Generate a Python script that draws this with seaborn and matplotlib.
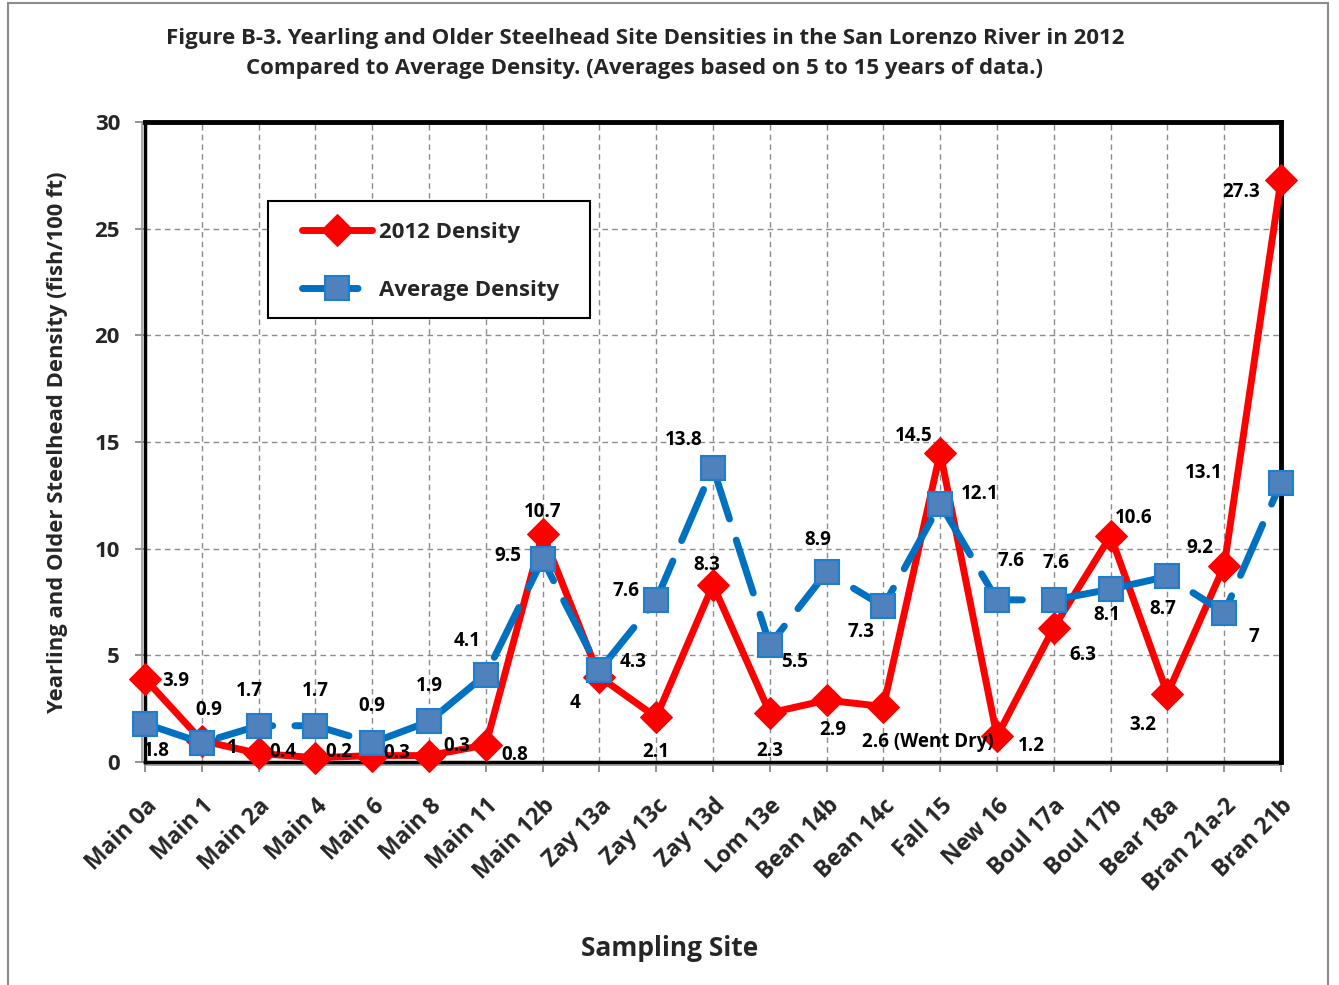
import matplotlib
matplotlib.use("Agg")
import matplotlib.pyplot as plt
from matplotlib.patches import Rectangle
from matplotlib.lines import Line2D
from matplotlib.transforms import offset_copy
import seaborn as sns
import pandas as pd

# Sampling sites and densities (fish/100 ft)
sites = ["Main 0a", "Main 1", "Main 2a", "Main 4", "Main 6", "Main 8", "Main 11",
         "Main 12b", "Zay 13a", "Zay 13c", "Zay 13d", "Lom 13e", "Bean 14b",
         "Bean 14c", "Fall 15", "New 16", "Boul 17a", "Boul 17b", "Bear 18a",
         "Bran 21a-2", "Bran 21b"]
density_2012 = [3.9, 1, 0.4, 0.2, 0.3, 0.3, 0.8, 10.7, 4, 2.1, 8.3, 2.3, 2.9,
                2.6, 14.5, 1.2, 6.3, 10.6, 3.2, 9.2, 27.3]
density_avg = [1.8, 0.9, 1.7, 1.7, 0.9, 1.9, 4.1, 9.5, 4.3, 7.6, 13.8, 5.5, 8.9,
               7.3, 12.1, 7.6, 7.6, 8.1, 8.7, 7, 13.1]
labels_2012 = ["3.9", "1", "0.4", "0.2", "0.3", "0.3", "0.8", "10.7", "4", "2.1",
               "8.3", "2.3", "2.9", "2.6 (Went Dry)", "14.5", "1.2", "6.3", "10.6",
               "3.2", "9.2", "27.3"]
labels_avg = [str(v) for v in density_avg]

# Label offsets in pixels (dx, dy) relative to each point
off_2012 = [(31, -2), (30, -7), (24, 1), (23, 6), (25, 3), (28, 10), (29, -10),
            (0, 22), (-24, -26), (0, -35), (-6, 20), (0, -38), (6, -30),
            (44, -35), (-26, 17), (34, -10), (29, -27), (23, 18), (-25, -31),
            (-24, 18), (-40, -12)]
off_avg = [(11, -27), (7, 33), (-9, 35), (0, 35), (0, 37), (0, 35), (-19, 34),
           (-35, 3), (34, 8), (-30, 9), (-29, 28), (25, -17), (-9, 32),
           (-22, -26), (40, 10), (14, 39), (2, 37), (-4, -26), (-5, -33),
           (30, -24), (-77, 10)]

df = pd.DataFrame({"site": sites, "d2012": density_2012, "davg": density_avg})

FONT = ["Open Sans", "DejaVu Sans"]
sns.set_theme(style="white")
plt.rcParams["font.family"] = FONT
plt.rcParams["font.weight"] = "bold"

fig = plt.figure(figsize=(13.39, 9.85), dpi=100)
ax = fig.add_axes([145 / 1339, 1 - 762 / 985, 1136 / 1339, 640 / 985])

red = "#FF0000"
blue = "#0070C0"

sns.lineplot(data=df, x="site", y="d2012", sort=False, ax=ax, color=red,
             linewidth=5, marker="D", markersize=16, markerfacecolor=red,
             markeredgecolor=red, label="2012 Density", zorder=3, clip_on=False)
sns.lineplot(data=df, x="site", y="davg", sort=False, ax=ax, color=blue,
             linewidth=5, marker="s", markersize=17, markerfacecolor="#4F81BD",
             markeredgecolor="#1C7FD0", markeredgewidth=1.5,
             label="Average Density", zorder=4, clip_on=False)
avg_line = ax.lines[-1]
avg_line.set_dashes((8, 3.2))
avg_line.set_dash_capstyle("round")
ax.lines[0].set_solid_capstyle("round")

# Value labels
for i in range(len(sites)):
    ax.annotate(labels_2012[i], (i, density_2012[i]), xytext=off_2012[i],
                textcoords="offset pixels", ha="center", va="center",
                fontsize=13.5, fontweight="bold", color="black", zorder=6)
    ax.annotate(labels_avg[i], (i, density_avg[i]), xytext=off_avg[i],
                textcoords="offset pixels", ha="center", va="center",
                fontsize=13.5, fontweight="bold", color="black", zorder=6)

ax.set_xlim(0, len(sites) - 1)
ax.set_ylim(0, 30)
ax.set_yticks([0, 5, 10, 15, 20, 25, 30])
ax.set_xticks(range(len(sites)))
ax.set_xticklabels(sites, rotation=45, ha="right", va="top",
                   rotation_mode="anchor", fontsize=16.5, fontweight="bold")
ax.tick_params(axis="y", labelsize=16, length=7, width=1.2, color="#808080",
               direction="out", left=True, pad=11)
ax.tick_params(axis="x", length=7, width=1.2, color="#808080", direction="out",
               bottom=True, pad=16)
for t in ax.get_yticklabels():
    t.set_fontweight("bold")

ax.grid(True, color="#8C8C8C", linestyle=(0, (4, 3)), linewidth=1)
ax.set_axisbelow(True)

for side in ["top", "right"]:
    ax.spines[side].set_linewidth(3.5)
    ax.spines[side].set_color("black")
for side in ["left", "bottom"]:
    ax.spines[side].set_linewidth(2.5)
    ax.spines[side].set_color("black")

# Gray shadow lines along the left and bottom axis edges
shadow_left = offset_copy(ax.transAxes, fig=fig, x=-3, y=0, units="dots")
shadow_bottom = offset_copy(ax.transAxes, fig=fig, x=0, y=-3, units="dots")
ax.add_line(Line2D([0, 0], [0, 1], transform=shadow_left, color="#999999",
                   linewidth=1.2, clip_on=False, zorder=2.4))
ax.add_line(Line2D([0, 1], [0, 0], transform=shadow_bottom, color="#999999",
                   linewidth=1.2, clip_on=False, zorder=2.4))

ax.set_ylabel("Yearling and Older Steelhead Density (fish/100 ft)",
              fontsize=15.8, fontweight="bold")
ax.yaxis.set_label_coords(-0.068, 0.5)
ax.set_xlabel("Sampling Site", fontsize=19, fontweight="bold")
ax.xaxis.set_label_coords(0.462, -0.27)

# Legend box
ax.add_patch(Rectangle((0.1083, 0.69375), 0.2835, 0.1828, transform=ax.transAxes,
                       facecolor="white", edgecolor="black", linewidth=1.5,
                       zorder=4.8))
leg = ax.legend(loc="upper left", bbox_to_anchor=((302 - 145) / 1136, (762 - 222) / 640),
                fontsize=16, frameon=False, handlelength=3.15,
                labelspacing=1.65, borderpad=0, handletextpad=0.3,
                borderaxespad=0)
leg.set_zorder(5)
for txt in leg.get_texts():
    txt.set_fontweight("bold")

fig.text(645 / 1339, 1 - 53.5 / 985,
         "Figure B-3. Yearling and Older Steelhead Site Densities in the San Lorenzo River in 2012\n"
         "Compared to Average Density. (Averages based on 5 to 15 years of data.)",
         ha="center", va="center", fontsize=16, fontweight="bold",
         linespacing=1.6)

# Outer chart-area border
fig.patches.append(Rectangle((8 / 1339, -0.01), 1320 / 1339, 1 - 3 / 985 + 0.01,
                             transform=fig.transFigure, fill=False,
                             edgecolor="#8C8C8C", linewidth=1.5))

fig.savefig("out.png", dpi=100)
